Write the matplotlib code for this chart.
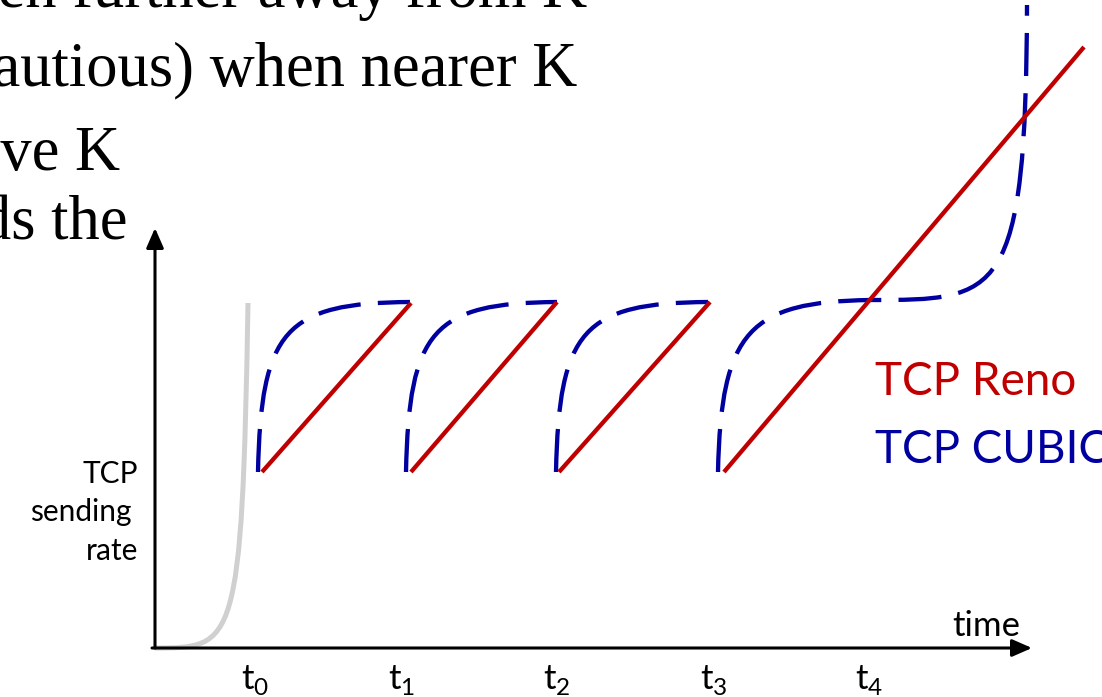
import matplotlib
matplotlib.use('Agg')
import matplotlib.pyplot as plt
from matplotlib.path import Path
from matplotlib.patches import PathPatch

plt.rcParams['font.family'] = ['Lato', 'DejaVu Sans']
plt.rcParams['mathtext.fontset'] = 'custom'
plt.rcParams['mathtext.rm'] = 'Lato'

# values measured from the axis corner (time to the right, rate upwards)
tick_times = [100, 247, 402, 559, 714]
tick_names = [r'$\mathrm{t}_0$', r'$\mathrm{t}_1$', r'$\mathrm{t}_2$',
              r'$\mathrm{t}_3$', r'$\mathrm{t}_4$']

# slow start (bezier control points)
slow_start = [(0, 0), (80, 0), (87, 0), (93, 345)]

# TCP Reno: linear increase, halve on loss
reno_t0 = [107, 256, 404, 569]
reno_r0 = [176, 176, 176, 176]
reno_t1 = [256, 402, 555, 929]
reno_r1 = [345, 346, 346, 601]

# TCP CUBIC (bezier control points per period)
cubic_1 = [(103, 176), (106, 318), (130, 345), (255, 346)]
cubic_2 = [(251, 176), (254, 318), (278, 345), (402, 346)]
cubic_3 = [(401, 176), (404, 318), (428, 345), (553, 346)]
cubic_4 = [(563, 176), (566, 318), (595, 346), (715, 348),
           (845, 348), (871, 348), (872, 643)]

slide_lines = ['then further away from K', '(more cautious) when nearer K',
               'above K', 'holds the']

red = '#C00000'
blue = '#0000A0'

fig = plt.figure(figsize=(11.02, 6.97), dpi=100)
ax = fig.add_axes([0, 0, 1, 1])
ax.set_xlim(-155, 947)
ax.set_ylim(-49, 648)
ax.axis('off')


def bezier(pts, **kw):
    codes = [Path.MOVETO] + [Path.CURVE4] * (len(pts) - 1)
    ax.add_patch(PathPatch(Path(pts, codes), fill=False, **kw))


# slide text behind the chart (cut off at the left)
slide_pos = [(432, 641), (422, 563), (-35, 478), (-27, 408)]
for (x, y), s in zip(slide_pos, slide_lines):
    ax.text(x, y, s, family='Liberation Serif', fontsize=45, ha='right',
            va='baseline', color='black')

# axes with arrow heads
arrow = dict(arrowstyle='-|>,head_length=0.8,head_width=0.35', lw=2.2,
             color='black', mutation_scale=15, shrinkA=0, shrinkB=0)
ax.annotate('', xy=(877, 0), xytext=(-3, 0), arrowprops=arrow)
ax.annotate('', xy=(0, 420), xytext=(0, 0), arrowprops=arrow)

bezier(slow_start, ec='#D0D0D0', lw=3.6, capstyle='butt')

for c in [cubic_1, cubic_2, cubic_3, cubic_4]:
    bezier(c, ec=blue, lw=3.1, linestyle=(0, (10, 4)), capstyle='butt')

for i in range(len(reno_t0)):
    ax.plot([reno_t0[i], reno_t1[i]], [reno_r0[i], reno_r1[i]], color=red,
            lw=3.1, solid_capstyle='butt')

for t, s in zip(tick_times, tick_names):
    ax.text(t, -41, s, fontsize=25, ha='center', va='baseline')

ax.text(865, 12, 'time', fontsize=25, ha='right', va='baseline')
for x, y, s in zip([-17, -23, -17], [165, 127, 88], ['TCP', 'sending', 'rate']):
    ax.text(x, y, s, fontsize=21.5, ha='right', va='baseline')

ax.text(720, 253, 'TCP Reno', fontsize=33, color=red, va='baseline')
ax.text(720, 185, 'TCP CUBIC', fontsize=33, color=blue, va='baseline')

fig.savefig('out.png', dpi=100)
